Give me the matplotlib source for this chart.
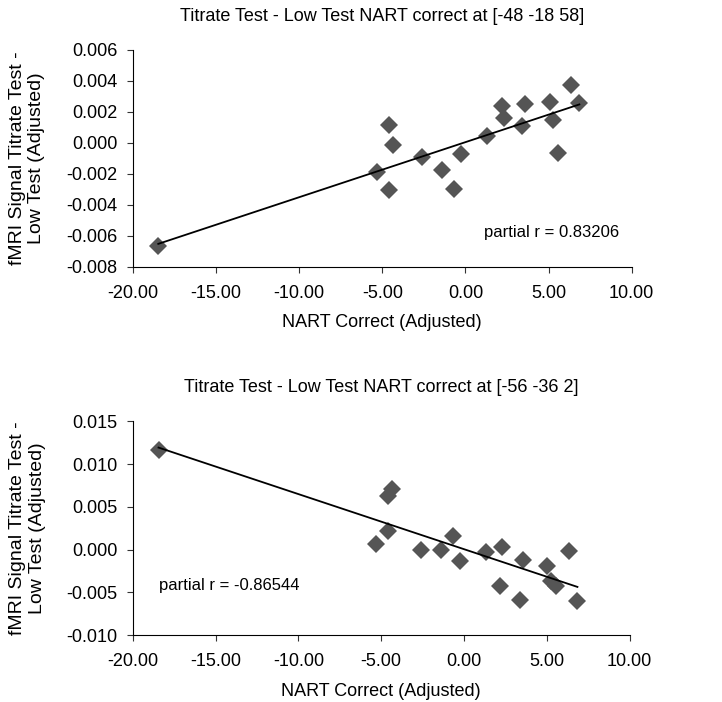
import numpy as np
import matplotlib
matplotlib.use("Agg")
import matplotlib.pyplot as plt
from matplotlib.ticker import FormatStrFormatter

plt.rcParams['font.family'] = ['Liberation Sans', 'DejaVu Sans']

# NART correct (adjusted) per subject
nart_top = [-18.47, -5.32, -4.57, -4.36, -4.57, -2.60, -1.44, -0.66, -0.28, 1.30,
            2.21, 2.33, 3.39, 3.58, 5.07, 5.27, 5.56, 6.37, 6.85]

# panel 1: [-48 -18 58]
signal_top = [-0.00667, -0.00187, 0.00112, -0.00011, -0.00306, -0.00090, -0.00177,
              -0.00301, -0.00075, 0.00047, 0.00236, 0.00161, 0.00107, 0.00251,
              0.00264, 0.00144, -0.00065, 0.00372, 0.00254]

# panel 2: [-56 -36 2]
nart_bottom = [-18.45, -5.30, -4.58, -4.34, -4.58, -2.58, -1.41, -0.67, -0.26, 1.31,
               2.32, 2.20, 3.37, 3.57, 5.04, 5.24, 5.55, 6.35, 6.85]
signal_bottom = [0.01165, 0.00066, 0.00630, 0.00709, 0.00222, 0.00000, 0.00000,
                 0.00164, -0.00128, -0.00031, 0.00035, -0.00420, -0.00584, -0.00120,
                 -0.00187, -0.00362, -0.00420, -0.00012, -0.00596]

titles = ['Titrate Test - Low Test NART correct at [-48 -18 58]',
          'Titrate Test - Low Test NART correct at [-56 -36 2]']
r_labels = ['partial r = 0.83206', 'partial r = -0.86544']


def draw_panel(ax, x, y, title, rtext, rpos, ylim, yticks):
    x = np.array(x)
    y = np.array(y)
    ax.plot(x, y, linestyle='none', marker='D', markersize=9,
            color='#555555', markeredgewidth=0)
    # linear trendline
    k, b = np.polyfit(x, y, 1)
    xs = np.array([x.min(), x.max()])
    ax.plot(xs, k * xs + b, color='black', linewidth=1.3)

    ax.set_xlim(-20, 10)
    ax.set_xticks(np.arange(-20, 10.1, 5))
    ax.set_ylim(*ylim)
    ax.set_yticks(yticks)
    ax.xaxis.set_major_formatter(FormatStrFormatter('%.2f'))
    ax.yaxis.set_major_formatter(FormatStrFormatter('%.3f'))
    for s in ['top', 'right']:
        ax.spines[s].set_visible(False)
    ax.tick_params(direction='out', length=4, pad=7, labelsize=13, color='#333333')
    ax.tick_params(axis='x', pad=9)
    ax.set_title(title, fontsize=13, pad=21)
    ax.set_xlabel('NART Correct (Adjusted)', fontsize=13, labelpad=9)
    ax.set_ylabel('fMRI Signal Titrate Test -\nLow Test (Adjusted)', fontsize=14,
                  labelpad=15)
    ax.text(rpos[0], rpos[1], rtext, fontsize=12, ha='left', va='center')


fig = plt.figure(figsize=(7.22, 7.02), dpi=100)
ax1 = fig.add_axes([0.184, 0.620, 0.691, 0.309])
ax2 = fig.add_axes([0.184, 0.095, 0.688, 0.305])

draw_panel(ax1, nart_top, signal_top, titles[0], r_labels[0], (1.1, -0.0058),
           (-0.008, 0.006), np.arange(-0.008, 0.0061, 0.002))
draw_panel(ax2, nart_bottom, signal_bottom, titles[1], r_labels[1], (-18.4, -0.0042),
           (-0.010, 0.015), np.arange(-0.010, 0.0151, 0.005))

fig.savefig('out.png', dpi=100)
